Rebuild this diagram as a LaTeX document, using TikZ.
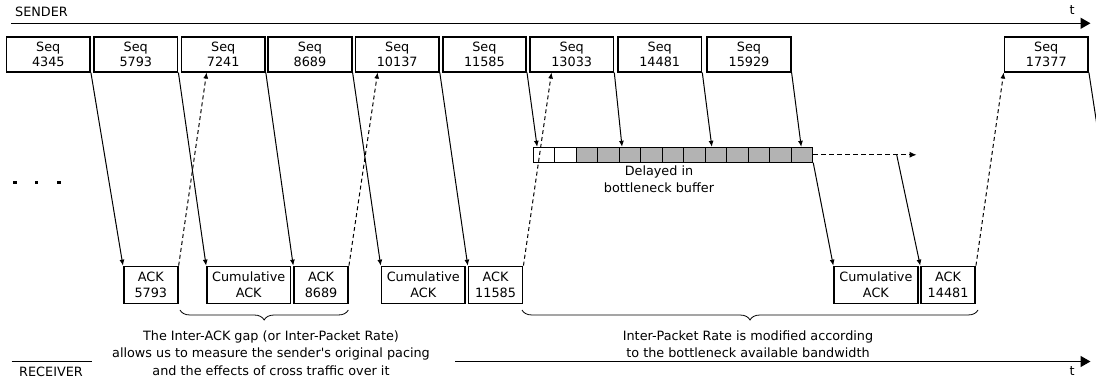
\documentclass[tikz,border=0pt]{standalone}
\usepackage{fontspec}
\setmainfont{DejaVu Sans}
\usepackage{tikz}
\usetikzlibrary{arrows.meta, calc, decorations.pathreplacing}
\usepackage{xcolor}
\definecolor{buffergray}{RGB}{179, 179, 179}

\begin{document}
\begin{tikzpicture}[x=1pt, y=-1pt,
    every node/.style={font=\fontsize{12.8}{15.7}\selectfont, inner sep=0pt},
    seqbox/.style={draw, line width=1.7pt, minimum width=83.5pt, minimum height=35pt, align=center},
    ackbox/.style={draw, line width=1.7pt, minimum width=54pt, minimum height=37pt, align=center},
    cumbox/.style={ackbox, minimum width=83.5pt},
    cell/.style={draw, line width=0.9pt, minimum width=21.5pt, minimum height=15pt},
    pkt/.style={line width=1pt, -{Latex[length=6pt, width=5pt]}},
    ack/.style={pkt, dash pattern=on 4pt off 3pt},
    axis/.style={line width=1.5pt, -{Triangle[length=10pt, width=11pt]}},
    gap/.style={decorate, decoration={brace, mirror, amplitude=10pt}, line width=0.8pt}]
  \useasboundingbox (0,0) rectangle (1096,379);

  % Sender time line
  \coordinate (sndL) at (11, 23.3);
  \coordinate (sndR) at (1090.5, 23.3);
  \draw[axis] (sndL) -- (sndR);
  \node (sender) at (41.5, 12) {SENDER};
  \node (tsnd) at (1072, 10) {t};

  % Receiver time line
  \coordinate (rcvL) at (11.6, 361.5);
  \coordinate (rcvA) at (92, 361.5);
  \coordinate (rcvB) at (455, 361.5);
  \coordinate (rcvR) at (1090.5, 361.5);
  \draw[line width=1.5pt] (rcvL) -- (rcvA);
  \draw[axis] (rcvB) -- (rcvR);
  \node (receiver) at (51, 371.5) {RECEIVER};
  \node (trcv) at (1072, 371.5) {t};

  % Sent segments
  \foreach \n/\x in {4345/48.3, 5793/135.8, 7241/223.2, 8689/310, 10137/397.2,
      11585/484.4, 13033/571.7, 14481/659.7, 15929/749, 17377/1046.3}
    \node[seqbox] (s\n) at (\x, 54.2) {Seq\\\n};

  % ACKs at the receiver
  \node[ackbox] (a5793) at (150.8, 285) {ACK\\5793};
  \node[cumbox] (c1) at (248.7, 285) {Cumulative\\ACK};
  \node[ackbox] (a8689) at (321.1, 285) {ACK\\8689};
  \node[cumbox] (c2) at (423.3, 285) {Cumulative\\ACK};
  \node[ackbox] (a11585) at (495.6, 285) {ACK\\11585};
  \node[cumbox] (c3) at (875.9, 285) {Cumulative\\ACK};
  \node[ackbox] (a14481) at (948.1, 285) {ACK\\14481};

  % Bottleneck buffer
  \foreach \i in {1,2}
    \node[cell, fill=white] (b\i) at ({533.3 + 21.5*(\i-0.5)}, 154.8) {};
  \foreach \i in {3,...,13}
    \node[cell, fill=buffergray] (b\i) at ({533.3 + 21.5*(\i-0.5)}, 154.8) {};
  \node[align=center, font=\fontsize{12.8}{16.6}\selectfont] (delayed) at (659, 179)
    {Delayed in\\bottleneck buffer};

  % Earlier traffic
  \foreach \x in {15, 36.7, 59}
    \fill (\x-1.6, 180.7) rectangle ++(3.2, 3.2);

  % Data packets
  \draw[pkt] (s4345.south east) -- (a5793.north west);
  \draw[pkt] (s5793.south east) -- (c1.north west);
  \draw[pkt] (s7241.south east) -- (a8689.north west);
  \draw[pkt] (s8689.south east) -- (c2.north west);
  \draw[pkt] (s10137.south east) -- (a11585.north west);
  \draw[pkt] (s11585.south east) -- ($(b1.north west)+(4.3,0)$);
  \draw[pkt] (s13033.south east) -- ($(b5.north west)+(3.2,0)$);
  \draw[pkt] (s14481.south east) -- ($(b9.north west)+(7,0)$);
  \draw[pkt] (s15929.south east) -- ($(b13.north west)+(10.4,0)$);
  \coordinate (offr) at (1101.5, 155);
  \draw[line width=1pt] (s17377.south east) -- (offr);

  % Leaving the buffer
  \coordinate (qout) at (916.7, 154.8);
  \coordinate (qtap) at (896.7, 154.8);
  \draw[line width=1.3pt, dash pattern=on 5pt off 3pt, -{Latex[length=7pt, width=6pt]}]
    (b13.east) -- (qout);
  \draw[pkt] (b13.south east) -- (c3.north west);
  \draw[pkt] (qtap) -- (a14481.north west);

  % ACKs back to the sender
  \draw[ack] (a5793.north east) -- ($(s7241.south west)+(26,0)$);
  \draw[ack] (a8689.north east) -- ($(s10137.south west)+(23,0)$);
  \draw[ack] (a11585.north east) -- ($(s13033.south west)+(22.4,0)$);
  \draw[ack] (a14481.north east) -- (s17377.south west);

  % Annotations
  \draw[gap] (180, 310) -- (348.3, 310);
  \draw[gap] (522, 310) -- (978, 310);
  \node[align=center, font=\fontsize{12.8}{17.5}\selectfont] (gapnote) at (271, 353)
    {The Inter-ACK gap (or Inter-Packet Rate)\\allows us to measure the sender\textquotesingle s original pacing\\and the effects of cross traffic over it};
  \node[align=center, font=\fontsize{12.8}{17.5}\selectfont] (ratenote) at (748, 344.3)
    {Inter-Packet Rate is modified according\\to the bottleneck available bandwidth};
\end{tikzpicture}
\end{document}
